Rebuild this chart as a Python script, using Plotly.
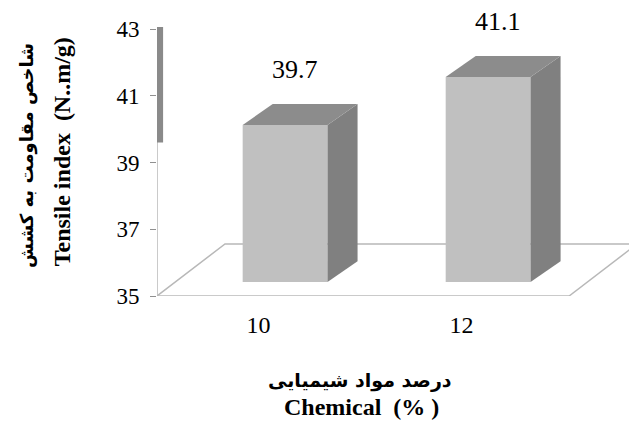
import plotly.graph_objects as go

# ---- data ----
categories = ["10", "12"]
tensile_index = [39.7, 41.1]
y_ticks = [35, 37, 39, 41, 43]

# ---- geometry / style constants ----
cat_pos = [0, 1]
BAR_OFFSET = -0.078
BAR_WIDTH = 0.418
DEPTH_X = 0.148      # 3-D depth in x units
DEPTH_Y = 0.61       # 3-D depth in y2 units
FLOOR2 = 35.12       # bar base on the projected axis
FLOOR_DX = 0.335
FLOOR_DY = 1.56
AX_LEFT, AX_RIGHT = -0.5, 1.53
LABEL_DX = 0.18
LABEL_DY = 1.02
Y_MIN, Y_MAX = 35, 43

FRONT = "#c0c0c0"
SIDE = "#808080"
TOP = "#8c8c8c"
GRID = "#b8b8b8"
SERIF = "Times New Roman, Liberation Serif, serif"
PERSIAN = "DejaVu Sans"

fig = go.Figure()

# floor
fig.add_trace(go.Scatter(
    x=[AX_LEFT, AX_LEFT + FLOOR_DX, 2.5],
    y=[Y_MIN, Y_MIN + FLOOR_DY, Y_MIN + FLOOR_DY],
    mode="lines", line=dict(color=GRID, width=1.5), hoverinfo="skip",
    showlegend=False))
fig.add_trace(go.Scatter(
    x=[AX_RIGHT, AX_RIGHT + FLOOR_DX],
    y=[Y_MIN, Y_MIN + FLOOR_DY],
    mode="lines", line=dict(color=GRID, width=1.5), hoverinfo="skip",
    showlegend=False))

# front faces
fig.add_trace(go.Bar(
    x=cat_pos, y=[v - FLOOR2 for v in tensile_index], base=FLOOR2,
    width=BAR_WIDTH, offset=BAR_OFFSET, yaxis="y2",
    marker=dict(color=FRONT, line=dict(width=0)), showlegend=False,
    hoverinfo="skip"))

# side + top faces
for c, v in zip(cat_pos, tensile_index):
    xl = c + BAR_OFFSET
    xr = xl + BAR_WIDTH
    fig.add_trace(go.Scatter(
        x=[xr, xr + DEPTH_X, xr + DEPTH_X, xr, xr],
        y=[FLOOR2, FLOOR2 + DEPTH_Y, v + DEPTH_Y, v, FLOOR2],
        yaxis="y2", fill="toself", fillcolor=SIDE, mode="lines",
        line=dict(width=0, color=SIDE), showlegend=False, hoverinfo="skip"))
    fig.add_trace(go.Scatter(
        x=[xl, xl + DEPTH_X, xr + DEPTH_X, xr, xl],
        y=[v, v + DEPTH_Y, v + DEPTH_Y, v, v],
        yaxis="y2", fill="toself", fillcolor=TOP, mode="lines",
        line=dict(width=0, color=TOP), showlegend=False, hoverinfo="skip"))

shapes = []
# y axis line
shapes.append(dict(type="line", xref="x", yref="y", x0=AX_LEFT, x1=AX_LEFT,
                   y0=Y_MIN, y1=Y_MAX, line=dict(color=GRID, width=1.5)))
# x axis line and tick marks
shapes.append(dict(type="line", xref="x", yref="y", x0=AX_LEFT, x1=AX_RIGHT,
                   y0=Y_MIN, y1=Y_MIN, line=dict(color=GRID, width=1.5)))
for tx in [AX_LEFT, 0.5, AX_RIGHT]:
    shapes.append(dict(type="line", xref="x", yref="y", x0=tx, x1=tx,
                       y0=Y_MIN, y1=Y_MIN - 0.16,
                       line=dict(color="#909090", width=1.2)))
# dark back-wall strip on the y axis
shapes.append(dict(type="rect", xref="x", yref="y", x0=-0.52, x1=-0.47,
                   y0=39.6, y1=43.06, fillcolor="#8a8a8a",
                   line=dict(width=0), layer="above"))
shapes.append(dict(type="rect", xref="x", yref="y", x0=-0.52, x1=-0.505,
                   y0=39.6, y1=43.06, fillcolor="#a8a8a8",
                   line=dict(width=0), layer="above"))

annotations = []
for c, v in zip(cat_pos, tensile_index):
    annotations.append(dict(
        text=f"{v}", xref="x", yref="y2", x=c + LABEL_DX,
        y=v + DEPTH_Y + LABEL_DY, showarrow=False,
        xanchor="center", yanchor="middle",
        font=dict(family=SERIF, size=26, color="black")))

# plot area spans pixels 10..296 vertically
annotations += [
    dict(text="شاخص مقاومت به کشش", xref="paper", yref="paper",
         x=-0.275, y=0.49, textangle=-90, showarrow=False,
         xanchor="center", yanchor="middle",
         font=dict(family=PERSIAN, size=18, color="black", weight="bold")),
    dict(text="Tensile index  (N..m/g)", xref="paper", yref="paper",
         x=-0.201, y=0.503, textangle=-90, showarrow=False,
         xanchor="center", yanchor="middle",
         font=dict(family=SERIF, size=24, color="black", weight="bold")),
    dict(text="درصد مواد شیمیایی", xref="paper", yref="paper",
         x=0.430, y=-0.294, showarrow=False,
         xanchor="center", yanchor="middle",
         font=dict(family=PERSIAN, size=19, color="black", weight="bold")),
    dict(text="Chemical  (% )", xref="paper", yref="paper",
         x=0.434, y=-0.388, showarrow=False,
         xanchor="center", yanchor="middle",
         font=dict(family=SERIF, size=24, color="black", weight="bold")),
]

fig.update_layout(
    width=629, height=426,
    margin=dict(l=157, r=0, t=10, b=130),
    paper_bgcolor="white", plot_bgcolor="white",
    showlegend=False,
    xaxis=dict(range=[-0.5, 1.825], tickvals=cat_pos, ticktext=categories,
               ticks="", showgrid=False, zeroline=False, showline=False,
               tickfont=dict(family=SERIF, size=24, color="black"),
               ticklabelstandoff=12),
    yaxis=dict(range=[Y_MIN, 43.57], tickvals=y_ticks, ticks="outside",
               ticklen=6, tickcolor="#909090", showgrid=False,
               zeroline=False, showline=False,
               tickfont=dict(family=SERIF, size=23, color="black"),
               ticklabelstandoff=6),
    yaxis2=dict(range=[34.715, 43.053], overlaying="y", visible=False),
    shapes=shapes, annotations=annotations,
)

fig.write_html("out.html", config={"displayModeBar": False},
               post_script="document.body.style.margin='0';document.body.style.overflow='hidden';")
